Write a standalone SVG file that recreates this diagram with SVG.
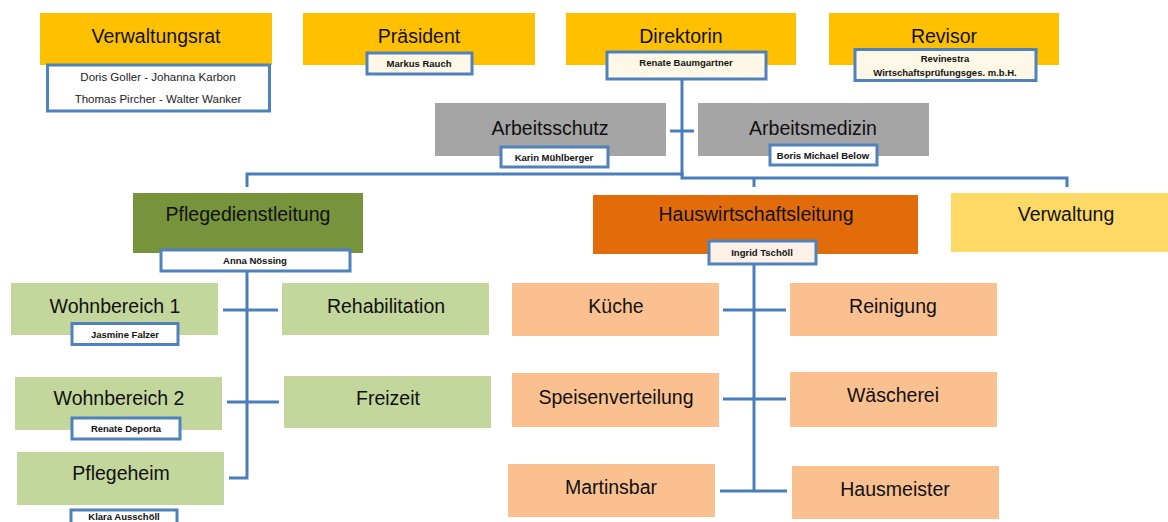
<svg xmlns="http://www.w3.org/2000/svg" width="1168" height="522" viewBox="0 0 1168 522">
<style>
.t{font-family:"Liberation Sans",Arial,sans-serif;font-size:19.5px;fill:#111;text-anchor:middle;dominant-baseline:central}
.n{font-family:"Liberation Sans",Arial,sans-serif;font-size:9.5px;font-weight:bold;fill:#111;text-anchor:middle;dominant-baseline:central}
.nr{font-family:"Liberation Sans",Arial,sans-serif;font-size:11.5px;fill:#222;text-anchor:middle;dominant-baseline:central}
.nb{stroke:#4F81BD;stroke-width:3;fill:#fff}
.gold{fill:#FFC000}.gray{fill:#A5A5A5}.olive{fill:#77933C}.orng{fill:#E36C0A}.ly{fill:#FFD966}.lg{fill:#C3D69B}.lo{fill:#FAC090}
.c{stroke:#4A7EBB;stroke-width:3;fill:none}
</style>
<rect width="1168" height="522" fill="#fff"/>
<g id="connectors">
<path class="c" d="M682 80V176"/>
<path class="c" d="M247 187V174H682V178H1067V187"/>
<path class="c" d="M754 178V187"/>
<path class="c" d="M670 131H694"/>
<path class="c" d="M247 272V478H229"/>
<path class="c" d="M223 310H278"/>
<path class="c" d="M227 402H279"/>
<path class="c" d="M754 265V492"/>
<path class="c" d="M723 310H786"/>
<path class="c" d="M723 399H786"/>
<path class="c" d="M720 491H787"/>
</g>
<g id="verwaltungsrat">
<rect class="gold" x="40" y="13" width="232" height="52"/>
<text class="t" x="156" y="36">Verwaltungsrat</text>
<rect class="nb" x="47.5" y="65" width="222" height="46"/>
<text class="nr" x="158" y="77">Doris Goller - Johanna Karbon</text>
<text class="nr" x="158" y="99">Thomas Pircher - Walter Wanker</text>
</g>
<g id="praesident">
<rect class="gold" x="303" y="13" width="232" height="52"/>
<text class="t" x="419" y="36">Präsident</text>
<rect class="nb" x="367" y="53" width="105" height="21" style="fill:#FFF8E6"/>
<text class="n" x="419" y="63.5">Markus Rauch</text>
</g>
<g id="direktorin">
<rect class="gold" x="566" y="13" width="230" height="52"/>
<text class="t" x="681" y="36">Direktorin</text>
<rect class="nb" x="607" y="52" width="159" height="27" style="fill:#FFF8E6"/>
<text class="n" x="686" y="62">Renate Baumgartner</text>
</g>
<g id="revisor">
<rect class="gold" x="829" y="13" width="230" height="52"/>
<text class="t" x="944" y="36">Revisor</text>
<rect class="nb" x="855" y="49.5" width="181" height="31" style="fill:#FFF8E6"/>
<text class="n" x="945" y="58">Revinestra</text>
<text class="n" x="945" y="72">Wirtschaftsprüfungsges. m.b.H.</text>
</g>
<g id="arbeitsschutz">
<rect class="gray" x="435" y="103" width="231" height="53"/>
<text class="t" x="550" y="128">Arbeitsschutz</text>
<rect class="nb" x="501" y="147" width="107" height="20"/>
<text class="n" x="554" y="157">Karin Mühlberger</text>
</g>
<g id="arbeitsmedizin">
<rect class="gray" x="698" y="103" width="231" height="53"/>
<text class="t" x="813" y="128">Arbeitsmedizin</text>
<rect class="nb" x="770" y="145" width="107" height="20"/>
<text class="n" x="823" y="155">Boris Michael Below</text>
</g>
<g id="pflegedienstleitung">
<rect class="olive" x="133" y="193" width="230" height="60"/>
<text class="t" x="248" y="214">Pflegedienstleitung</text>
<rect class="nb" x="161" y="250" width="189" height="21"/>
<text class="n" x="255" y="260.5">Anna Nössing</text>
</g>
<g id="hauswirtschaftsleitung">
<rect class="orng" x="593" y="195" width="325" height="59"/>
<text class="t" x="756" y="214">Hauswirtschaftsleitung</text>
<rect class="nb" x="709" y="241" width="107" height="23" style="fill:#FDF0E6"/>
<text class="n" x="762" y="252">Ingrid Tschöll</text>
</g>
<g id="verwaltung">
<rect class="ly" x="951" y="193" width="217" height="59"/>
<text class="t" x="1066" y="214">Verwaltung</text>
</g>
<g id="wohnbereich1">
<rect class="lg" x="11" y="283" width="207" height="52"/>
<text class="t" x="115" y="306">Wohnbereich 1</text>
<rect class="nb" x="72" y="323.5" width="106" height="21"/>
<text class="n" x="125" y="334">Jasmine Falzer</text>
</g>
<g id="rehabilitation">
<rect class="lg" x="282" y="283" width="207" height="52"/>
<text class="t" x="386" y="306">Rehabilitation</text>
</g>
<g id="wohnbereich2">
<rect class="lg" x="15" y="377" width="207" height="53"/>
<text class="t" x="119" y="398">Wohnbereich 2</text>
<rect class="nb" x="72" y="418" width="108" height="21"/>
<text class="n" x="126" y="428.5">Renate Deporta</text>
</g>
<g id="freizeit">
<rect class="lg" x="284" y="376" width="207" height="52"/>
<text class="t" x="388" y="398">Freizeit</text>
</g>
<g id="pflegeheim">
<rect class="lg" x="17" y="452" width="207" height="53"/>
<text class="t" x="121" y="473">Pflegeheim</text>
<rect class="nb" x="71" y="510" width="106" height="21"/>
<text class="n" x="124" y="516.5">Klara Ausschöll</text>
</g>
<g id="kueche">
<rect class="lo" x="512" y="283" width="207" height="53"/>
<text class="t" x="616" y="306">Küche</text>
</g>
<g id="reinigung">
<rect class="lo" x="790" y="283" width="207" height="53"/>
<text class="t" x="893" y="306">Reinigung</text>
</g>
<g id="speisenverteilung">
<rect class="lo" x="512" y="373" width="207" height="54"/>
<text class="t" x="616" y="397">Speisenverteilung</text>
</g>
<g id="waescherei">
<rect class="lo" x="790" y="372" width="207" height="55"/>
<text class="t" x="893" y="395">Wäscherei</text>
</g>
<g id="martinsbar">
<rect class="lo" x="508" y="464" width="207" height="53"/>
<text class="t" x="611" y="487">Martinsbar</text>
</g>
<g id="hausmeister">
<rect class="lo" x="792" y="466" width="207" height="53"/>
<text class="t" x="895" y="489">Hausmeister</text>
</g>
</svg>
